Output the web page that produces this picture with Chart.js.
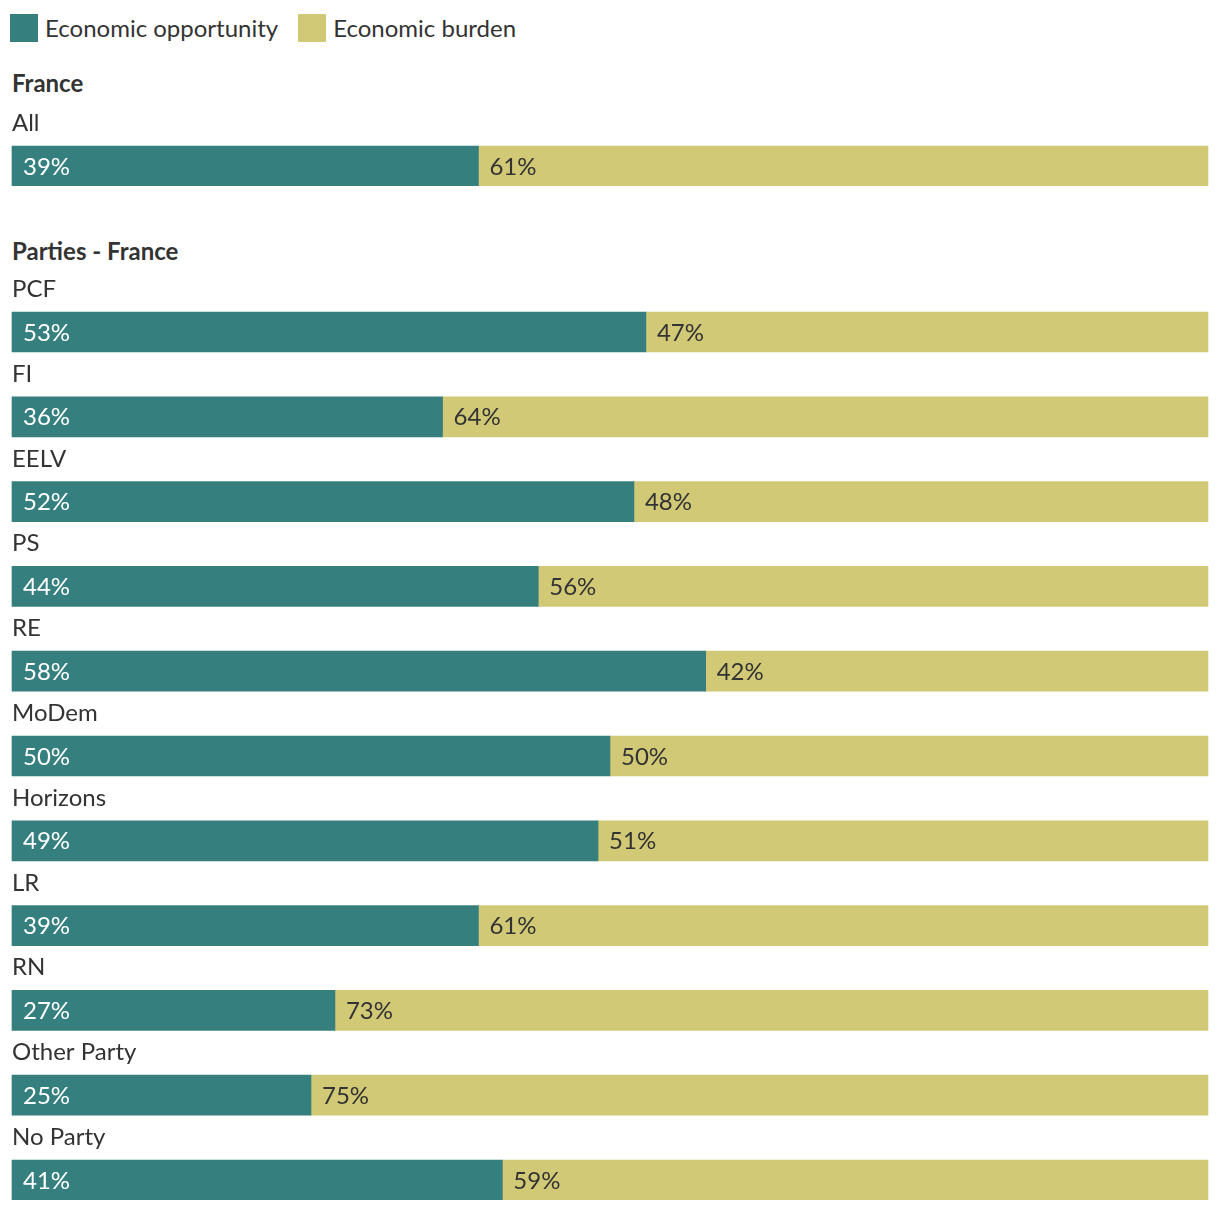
<!DOCTYPE html>
<html>
<head>
<meta charset="utf-8">
<script src="https://cdn.jsdelivr.net/npm/chart.js@4.4.1/dist/chart.umd.min.js"></script>
<style>
  html, body { margin:0; padding:0; background:#fff; width:1220px; height:1212px; overflow:hidden; }
  body { position:relative; font-family: Lato, "Open Sans", sans-serif; color:#333; }
  .legend { position:absolute; left:10px; top:14px; display:flex; align-items:center; font-size:24px; line-height:28px; }
  .legend .item { display:flex; align-items:center; margin-right:20px; }
  .legend .sw { width:28px; height:28px; margin-right:7px; }
  .heading { position:absolute; left:12px; font-weight:bold; font-size:24px; line-height:28px; }
  canvas { position:absolute; left:0; }
</style>
</head>
<body>
<div class="legend" id="legend"></div>
<div class="heading" style="top:69px">France</div>
<div class="heading" style="top:237px">Parties - France</div>
<div id="c1wrap" style="position:absolute;left:0;top:100px;width:1220px;height:86px"><canvas id="c1"></canvas></div>
<div id="c2wrap" style="position:absolute;left:0;top:270px;width:1220px;height:930px"><canvas id="c2"></canvas></div>
<script>
const seriesNames = ['Economic opportunity', 'Economic burden'];
const seriesColors = ['#367f7f', '#d1c976'];

const franceCategories = ['All'];
const franceOpportunity = [39];
const franceBurden = [61];

const partyCategories = ['PCF', 'FI', 'EELV', 'PS', 'RE', 'MoDem', 'Horizons', 'LR', 'RN', 'Other Party', 'No Party'];
const partyOpportunity = [53, 36, 52, 44, 58, 50, 49, 39, 27, 25, 41];
const partyBurden = [47, 64, 48, 56, 42, 50, 51, 61, 73, 75, 59];

const textColors = ['#ffffff', '#333333'];
const FONT = 'Lato, "Open Sans", sans-serif';

// HTML legend built from series arrays
const legendEl = document.getElementById('legend');
seriesNames.forEach((n, i) => {
  const it = document.createElement('div'); it.className = 'item';
  const sw = document.createElement('div'); sw.className = 'sw'; sw.style.background = seriesColors[i];
  const tx = document.createElement('span'); tx.textContent = n;
  it.appendChild(sw); it.appendChild(tx); legendEl.appendChild(it);
});

const labelPlugin = {
  id: 'rowLabels',
  afterDatasetsDraw(chart) {
    const ctx = chart.ctx;
    ctx.save();
    ctx.font = '24px ' + FONT;
    ctx.textBaseline = 'alphabetic';
    ctx.textAlign = 'left';
    // category labels above the bars
    const meta0 = chart.getDatasetMeta(0);
    meta0.data.forEach((bar, i) => {
      const top = bar.y - bar.height / 2;
      ctx.fillStyle = '#333333';
      ctx.fillText(chart.data.labels[i], chart.chartArea.left, top - 15);
    });
    // value labels inside segments
    chart.data.datasets.forEach((ds, di) => {
      const meta = chart.getDatasetMeta(di);
      meta.data.forEach((bar, i) => {
        const left = Math.min(bar.base, bar.x);
        ctx.fillStyle = textColors[di];
        ctx.fillText(ds.data[i] + '%', left + 11, bar.y + 8.5);
      });
    });
    ctx.restore();
  }
};

function makeChart(id, labels, opp, bur, opts) {
  return new Chart(document.getElementById(id), {
    type: 'bar',
    data: {
      labels: labels,
      datasets: [
        { label: seriesNames[0], data: opp, backgroundColor: seriesColors[0], borderWidth: 0, clip: false },
        { label: seriesNames[1], data: bur, backgroundColor: seriesColors[1], borderWidth: 0, clip: false }
      ]
    },
    options: {
      indexAxis: 'y',
      responsive: true,
      maintainAspectRatio: false,
      animation: false,
      devicePixelRatio: 1,
      layout: { padding: opts.padding },
      datasets: { bar: opts.bar },
      scales: {
        x: { stacked: true, min: 0, max: 100, display: false },
        y: { stacked: true, display: false, offset: opts.offset }
      },
      plugins: { legend: { display: false }, tooltip: { enabled: false } }
    },
    plugins: [labelPlugin]
  });
}

makeChart('c1', franceCategories, franceOpportunity, franceBurden, {
  padding: { top: 46, bottom: 0, left: 12, right: 12 },
  bar: { barPercentage: 1, categoryPercentage: 1 },
  offset: true
});
makeChart('c2', partyCategories, partyOpportunity, partyBurden, {
  padding: { top: 62, bottom: 20, left: 12, right: 12 },
  bar: { barThickness: 40 },
  offset: false
});
</script>
</body>
</html>
